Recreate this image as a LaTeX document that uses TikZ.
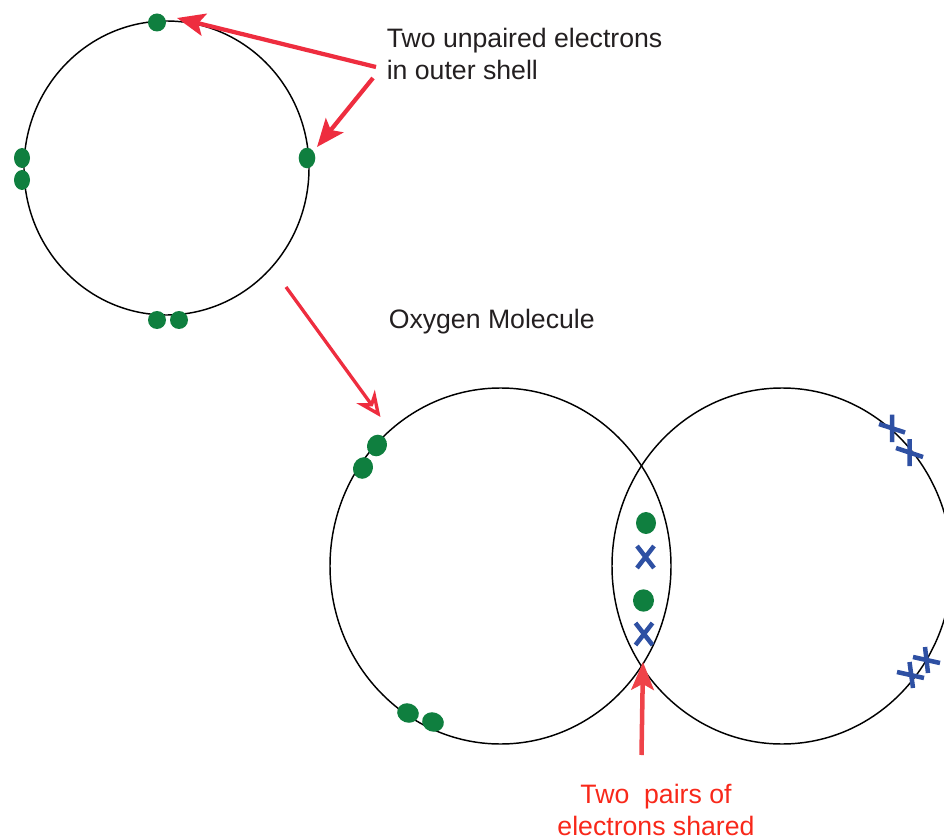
\documentclass[tikz,border=0pt]{standalone}
\usepackage{fontspec}
\setmainfont{Liberation Sans}
\usetikzlibrary{arrows.meta}
\definecolor{elgreen}{HTML}{0F7F3F}
\definecolor{xblue}{HTML}{2E50A3}
\definecolor{arrred}{HTML}{EE2D3F}
\definecolor{arrred2}{HTML}{EF4349}
\definecolor{txtred}{HTML}{F8281A}
\definecolor{txtdark}{HTML}{231F20}
\tikzset{
  shell/.style={draw=black,line width=1.1pt,fill=none},
  ptr/.style={draw=arrred,line width=3.2pt,-{Stealth[length=21pt,width=17pt,inset=4.5pt]}},
  ptrb/.style={draw=arrred2,line width=3.4pt,-{Stealth[length=21pt,width=17pt,inset=4.5pt]}},
  ptropen/.style={draw=arrred,line width=2.5pt,-{Stealth[open,length=19pt,width=17pt,inset=6pt,fill=white]}},
  cross/.style={draw=xblue,line width=3.4pt},
  lbl/.style={inner sep=0pt,align=left,text=txtdark,font=\fontsize{20.1pt}{24pt}\selectfont},
  lblred/.style={inner sep=0pt,align=center,text=txtred,font=\fontsize{20.1pt}{24pt}\selectfont},
}
% name, x, y, x radius, y radius, rotation
\newcommand{\elec}[6]{\coordinate (#1) at (#2,-#3); \fill[elgreen,rotate around={#6:(#1)}] (#1) ellipse [x radius=#4,y radius=#5];}
\newcommand{\crossmark}[4]{\draw[cross] (#1-#3,-#2-#4) -- (#1+#3,-#2+#4) (#1-#3,-#2+#4) -- (#1+#3,-#2-#4);}
\begin{document}
\begin{tikzpicture}[x=0.0265cm,y=0.0265cm]
\useasboundingbox (0,0) rectangle (944,-839);
\clip (0,0) rectangle (944,-839);
% shells
\draw[shell] (166.5,-168) ellipse [x radius=142.5,y radius=147];
\draw[shell] (500.5,-566) ellipse [x radius=170.5,y radius=178];
\draw[shell] (782,-566) ellipse [x radius=170,y radius=178];
% electrons
\elec{e1}{157}{22.5}{9}{9}{0}
\elec{e2}{307}{158}{8.3}{10.3}{0}
\elec{e3}{22}{158}{8}{10}{0}
\elec{e4}{22}{180}{8}{10}{0}
\elec{e5}{157}{320}{9}{9}{0}
\elec{e6}{179}{320}{9}{9}{0}
\elec{e7}{377}{445.5}{9.8}{11}{-25}
\elec{e8}{363}{468}{9.8}{11}{-25}
\elec{e9}{408}{713}{11}{9.6}{-20}
\elec{e10}{433}{722}{11}{9.6}{-20}
\elec{e11}{646}{523}{10}{11}{0}
\elec{e12}{643.5}{600.5}{10.5}{11.2}{0}
% crosses
\crossmark{645.5}{557}{8.5}{11}
\crossmark{644}{634}{8.5}{11}
\draw[cross] (892,-414.5)--(892,-442) (879,-424)--(905,-432.5);
\draw[cross] (909.5,-439)--(909.5,-466) (896,-448)--(923,-457);
\draw[cross] (909.5,-662)--(913,-688) (897,-672)--(924,-678);
\draw[cross] (925,-647)--(928,-673) (913,-657)--(940,-663);
% labels
\node[lbl,anchor=north west] (t1) at (386.5,-28) {Two unpaired electrons\\in outer shell};
\node[lbl,anchor=north west] (t2) at (388.5,-309) {Oxygen Molecule};
\node[lblred,anchor=north] (t3) at (656,-784) {Two\ \ pairs of\\electrons shared};
% arrows
\coordinate (a1s) at (376,-67);
\coordinate (a2s) at (373,-78);
\coordinate (a3s) at (286,-287);
\coordinate (a3e) at (380.5,-417);
\coordinate (a4s) at (641.5,-755);
\coordinate (a4e) at (643,-662);
\coordinate (a1e) at (177,-18);
\coordinate (a2e) at (317,-147);
\draw[ptr] (a1s) -- (a1e);
\draw[ptr] (a2s) -- (a2e);
\draw[ptropen] (a3s) -- (a3e);
\draw[ptrb] (a4s) -- (a4e);
\end{tikzpicture}
\end{document}
